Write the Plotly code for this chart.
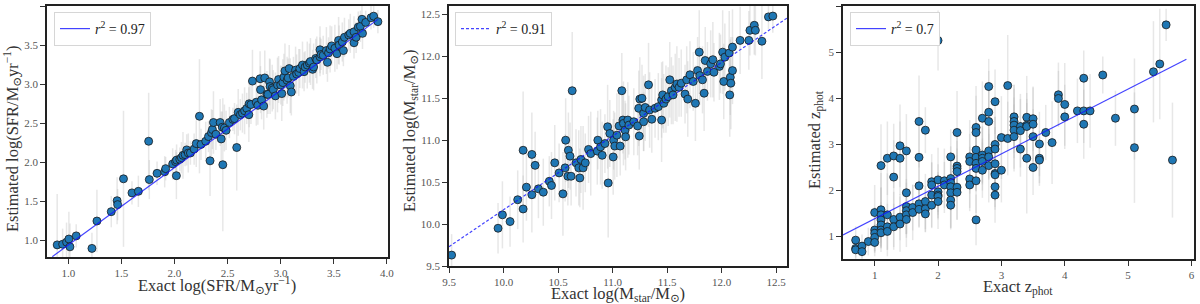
import plotly.graph_objects as go

# ---------------- Panel 1: SFR ----------------
sfr_exact = [0.896, 0.947, 0.984, 1.006, 1.016, 1.075, 1.223, 1.27, 1.405, 1.46,
             1.465, 1.52, 1.60, 1.66, 1.757, 1.763, 1.836, 1.908, 1.917, 1.983,
             2.01, 2.018, 2.02, 2.05, 2.065, 2.08, 2.10, 2.115, 2.13, 2.15,
             2.185, 2.205, 2.235, 2.25, 2.294, 2.32, 2.335, 2.348, 2.357, 2.367,
             2.39, 2.43, 2.44, 2.455, 2.45, 2.47, 2.486, 2.517, 2.55, 2.565,
             2.586, 2.60, 2.62, 2.64, 2.66, 2.68, 2.70, 2.703, 2.72, 2.734,
             2.77, 2.785, 2.806, 2.81, 2.82, 2.84, 2.85, 2.87, 2.88, 2.895,
             2.90, 2.92, 2.93, 2.95, 2.97, 2.98, 3.00, 3.01, 3.02, 3.03,
             3.04, 3.06, 3.07, 3.08, 3.09, 3.10, 3.12, 3.14, 3.15, 3.17,
             3.18, 3.205, 3.22, 3.23, 3.25, 3.27, 3.28, 3.30, 3.31, 3.33,
             3.34, 3.37, 3.37, 3.38, 3.40, 3.43, 3.44, 3.45, 3.465, 3.48,
             3.51, 3.53, 3.545, 3.55, 3.58, 3.59, 3.60, 3.64, 3.655, 3.69,
             3.69, 3.71, 3.73, 3.75, 3.765, 3.77, 3.80, 3.85, 3.875, 3.915]
sfr_est = [0.945, 0.953, 0.98, 1.02, 0.92, 1.06, 0.90, 1.25, 1.37, 1.51,
           1.46, 1.79, 1.61, 1.63, 2.27, 1.78, 1.86, 1.88, 1.92, 1.98,
           2.01, 1.83, 2.03, 2.04, 2.06, 2.09, 2.10, 2.16, 2.12, 2.12,
           2.17, 2.24, 2.59, 2.23, 2.27, 2.33, 2.02, 2.38, 2.42, 2.51,
           2.36, 2.51, 2.30, 1.97, 2.45, 2.44, 2.41, 2.51, 2.55, 2.56,
           2.19, 2.64, 2.61, 2.63, 2.66, 2.69, 2.61, 2.75, 2.74, 3.04,
           2.77, 2.73, 3.07, 2.93, 2.80, 2.72, 3.08, 2.87, 2.87, 3.03,
           2.97, 2.95, 2.93, 2.85, 2.99, 3.06, 2.99, 2.88, 3.02, 3.09,
           3.17, 3.05, 3.08, 3.20, 2.98, 2.90, 3.10, 3.18, 3.13, 3.15,
           3.20, 3.245, 3.16, 3.22, 3.245, 3.27, 3.29, 3.19, 3.22, 3.33,
           3.31, 3.35, 3.44, 3.38, 3.37, 3.43, 3.28, 3.40, 3.45, 3.49,
           3.46, 3.39, 3.56, 3.50, 3.54, 3.43, 3.60, 3.63, 3.65, 3.53,
           3.67, 3.60, 3.73, 3.74, 3.83, 3.65, 3.79, 3.85, 3.87, 3.80]
sfr_err = [0.65, 0.2, 0.25, 0.35, 0.3, 0.15, 0.2, 0.4, 0.2, 0.3,
           0.2, 0.87, 0.15, 0.2, 0.62, 0.25, 0.15, 0.2, 0.15, 0.2,
           0.15, 0.3, 0.2, 0.15, 0.2, 0.3, 0.15, 0.2, 0.25, 0.15,
           0.2, 0.3, 0.73, 0.2, 0.25, 0.2, 0.45, 0.3, 0.25, 0.4,
           0.2, 0.3, 0.35, 0.85, 0.2, 0.3, 0.25, 0.2, 0.15, 0.2,
           0.55, 0.3, 0.2, 0.25, 0.3, 0.2, 0.35, 0.3, 0.25, 0.4,
           0.3, 0.25, 0.35, 0.3, 0.25, 0.3, 0.35, 0.3, 0.25, 0.3,
           0.35, 0.3, 0.25, 0.3, 0.35, 0.3, 0.25, 0.35, 0.3, 0.3,
           0.35, 0.3, 0.25, 0.3, 0.35, 0.3, 0.25, 0.3, 0.25, 0.3,
           0.25, 0.3, 0.25, 0.2, 0.3, 0.25, 0.3, 0.25, 0.3, 0.25,
           0.3, 0.25, 0.3, 0.2, 0.25, 0.3, 0.25, 0.2, 0.3, 0.25,
           0.3, 0.2, 0.3, 0.25, 0.25, 0.2, 0.25, 0.2, 0.25, 0.2,
           0.2, 0.2, 0.2, 0.2, 0.2, 0.2, 0.15, 0.15, 0.15, 0.15]
sfr_fit = [0.99, -0.047]          # slope, intercept
sfr_fit_x = [0.85, 3.915]
sfr_r2 = "0.97"

# ---------------- Panel 2: Mstar ----------------
mstar_exact = [9.524, 9.95, 9.99, 10.06, 10.13, 10.18, 10.18, 10.21, 10.26, 10.26,
               10.29, 10.32, 10.365, 10.42, 10.44, 10.47, 10.51, 10.545, 10.565, 10.57,
               10.59, 10.595, 10.61, 10.62, 10.63, 10.665, 10.69, 10.70, 10.71, 10.73,
               10.75, 10.78, 10.80, 10.86, 10.865, 10.89, 10.905, 10.93, 10.955, 10.96,
               10.975, 11.006, 11.01, 11.02, 11.04, 11.06, 11.07, 11.085, 11.095, 11.10,
               11.115, 11.12, 11.14, 11.15, 11.195, 11.23, 11.24, 11.245, 11.25, 11.27,
               11.285, 11.285, 11.30, 11.33, 11.34, 11.36, 11.39, 11.42, 11.45, 11.45,
               11.46, 11.47, 11.49, 11.51, 11.525, 11.54, 11.555, 11.575, 11.59, 11.61,
               11.63, 11.665, 11.68, 11.69, 11.71, 11.74, 11.76, 11.78, 11.795, 11.80,
               11.825, 11.84, 11.85, 11.87, 11.90, 11.92, 11.93, 11.98, 11.99, 12.01,
               12.02, 12.03, 12.07, 12.075, 12.08, 12.085, 12.10, 12.10, 12.17, 12.25,
               12.26, 12.30, 12.31, 12.37, 12.43, 12.47]
mstar_est = [9.63, 9.95, 10.11, 10.03, 10.29, 10.18, 10.88, 10.44, 10.35, 10.83,
             10.70, 10.42, 10.38, 10.51, 10.46, 10.73, 10.61, 10.36, 10.67, 11.0,
             10.57, 10.88, 10.81, 10.57, 11.59, 10.73, 10.67, 10.55, 10.77, 10.67,
             10.73, 10.89, 10.84, 10.87, 11.0, 10.92, 10.82, 10.96, 11.16, 10.49,
             11.08, 10.80, 11.0, 10.93, 11.06, 11.17, 10.93, 11.59, 11.24, 11.20,
             11.12, 11.04, 11.24, 11.18, 11.22, 11.17, 11.38, 11.05, 11.49, 11.50,
             11.32, 11.22, 11.39, 11.66, 11.36, 11.25, 11.38, 11.40, 11.48, 11.24,
             11.54, 11.44, 11.49, 11.52, 11.72, 11.59, 11.54, 11.63, 11.67, 11.63,
             11.68, 11.55, 11.72, 11.49, 11.78, 11.70, 11.44, 11.83, 12.05, 11.77,
             11.72, 11.56, 11.95, 11.82, 11.91, 11.96, 11.81, 11.88, 11.91, 12.05,
             11.70, 11.99, 12.04, 11.54, 11.75, 11.68, 11.83, 12.11, 12.19, 12.19,
             12.31, 12.37, 12.31, 12.18, 12.47, 12.48]
mstar_err = [0.25, 0.3, 0.4, 0.3, 0.35, 0.4, 0.7, 0.4, 0.45, 0.5,
             0.4, 0.35, 0.4, 0.3, 0.4, 0.45, 0.35, 0.5, 0.4, 0.5,
             0.35, 0.45, 0.4, 0.35, 0.7, 0.4, 0.45, 0.35, 0.4, 0.5,
             0.35, 0.4, 0.5, 0.4, 0.35, 0.45, 0.4, 0.35, 0.5, 0.65,
             0.4, 0.45, 0.35, 0.4, 0.5, 0.4, 0.35, 0.45, 0.4, 0.5,
             0.35, 0.4, 0.45, 0.35, 0.4, 0.35, 0.45, 0.4, 0.5, 0.4,
             0.45, 0.35, 0.4, 0.5, 0.45, 0.4, 0.35, 0.4, 0.45, 0.5,
             0.4, 0.35, 0.4, 0.35, 0.45, 0.4, 0.35, 0.4, 0.45, 0.35,
             0.4, 0.35, 0.4, 0.45, 0.4, 0.35, 0.45, 0.4, 0.5, 0.35,
             0.4, 0.45, 0.4, 0.35, 0.4, 0.45, 0.35, 0.4, 0.35, 0.5,
             0.45, 0.4, 0.5, 0.5, 0.45, 0.55, 0.4, 0.45, 0.4, 0.35,
             0.3, 0.35, 0.3, 0.45, 0.15, 0.2]
mstar_fit = [0.879, 1.38]
mstar_fit_x = [9.5, 12.6]
mstar_r2 = "0.91"

# ---------------- Panel 3: z_phot ----------------
z_exact = [0.7, 0.7, 0.7, 0.8, 0.8, 0.9, 1.0, 1.0, 1.0, 1.0,
           1.0, 1.1, 1.1, 1.1, 1.1, 1.1, 1.1, 1.1, 1.2, 1.2,
           1.2, 1.2, 1.3, 1.3, 1.3, 1.3, 1.4, 1.4, 1.4, 1.4,
           1.5, 1.5, 1.5, 1.5, 1.5, 1.5, 1.6, 1.6, 1.7, 1.7,
           1.7, 1.7, 1.7, 1.8, 1.8, 1.8, 1.8, 1.9, 1.9, 1.9,
           1.9, 2.0, 2.0, 2.0, 2.0, 2.0, 2.0, 2.1, 2.1, 2.2,
           2.2, 2.2, 2.2, 2.2, 2.2, 2.2, 2.3, 2.3, 2.3, 2.3,
           2.3, 2.3, 2.5, 2.5, 2.5, 2.5, 2.6, 2.6, 2.6, 2.6,
           2.6, 2.6, 2.6, 2.6, 2.7, 2.7, 2.7, 2.7, 2.7, 2.8,
           2.8, 2.8, 2.8, 2.8, 2.8, 2.9, 2.9, 2.9, 2.9, 2.9,
           2.9, 2.9, 2.9, 3.0, 3.0, 3.1, 3.1, 3.2, 3.2, 3.2,
           3.2, 3.2, 3.3, 3.3, 3.3, 3.4, 3.4, 3.4, 3.4, 3.5,
           3.5, 3.5, 3.5, 3.6, 3.6, 3.6, 3.7, 3.8, 3.9, 3.9,
           4.0, 4.0, 4.2, 4.3, 4.3, 4.3, 4.4, 4.6, 4.8, 5.1,
           5.1, 5.4, 5.5, 5.6, 5.7]
z_est = [0.91, 0.73, 0.70, 0.78, 0.66, 0.88, 1.51, 1.13, 1.06, 0.97,
         0.86, 2.53, 1.57, 1.46, 1.35, 1.24, 1.13, 1.07, 2.69, 1.46,
         1.20, 1.10, 2.28, 2.74, 1.36, 1.20, 2.96, 2.69, 1.41, 1.26,
         2.85, 1.94, 1.64, 1.55, 1.46, 1.36, 1.62, 1.51, 3.49, 2.71,
         2.09, 1.70, 1.58, 3.30, 1.75, 1.59, 1.48, 2.18, 2.11, 1.89,
         1.67, 5.25, 2.22, 1.96, 1.89, 1.86, 1.75, 2.20, 2.11, 2.72,
         2.25, 2.16, 2.07, 1.94, 1.78, 1.67, 3.25, 2.52, 2.47, 2.40,
         2.06, 1.95, 2.72, 2.62, 2.24, 2.11, 3.36, 3.25, 2.87, 2.71,
         2.58, 2.47, 2.20, 1.35, 3.56, 2.76, 2.69, 2.62, 2.43, 4.25,
         3.69, 3.49, 2.85, 2.72, 2.53, 3.92, 2.99, 2.89, 2.57, 2.36,
         2.33, 2.07, 1.89, 3.14, 2.43, 4.27, 3.12, 3.59, 3.49, 3.41,
         3.30, 3.16, 3.38, 3.29, 2.89, 3.58, 3.41, 3.38, 2.69, 3.55,
         3.43, 3.16, 2.49, 3.0, 2.69, 2.65, 3.25, 3.03, 4.07, 3.99,
         3.86, 3.59, 3.72, 4.43, 3.72, 3.43, 3.72, 4.50, 3.56, 3.76,
         2.92, 4.57, 4.74, 5.59, 2.65]
z_err = [0.3, 0.2, 0.2, 0.25, 0.2, 0.3, 0.6, 0.5, 0.4, 0.3,
         0.3, 0.9, 0.8, 0.6, 0.7, 0.5, 0.4, 0.3, 0.8, 0.9,
         0.5, 0.4, 0.8, 0.7, 0.6, 0.5, 0.9, 0.8, 0.5, 0.6,
         0.8, 0.9, 0.6, 0.5, 0.7, 0.4, 0.5, 0.6, 1.0, 0.8,
         0.6, 0.5, 0.4, 0.5, 0.6, 0.5, 0.4, 0.6, 0.5, 0.7,
         0.5, 0.65, 0.7, 0.6, 0.5, 0.4, 0.6, 0.7, 0.5, 0.6,
         0.7, 0.6, 0.5, 0.8, 0.6, 0.5, 0.9, 0.7, 0.6, 0.5,
         0.7, 0.6, 0.8, 0.6, 0.7, 0.5, 0.9, 0.8, 0.6, 0.7,
         0.6, 0.5, 0.7, 0.55, 0.8, 0.6, 0.7, 0.5, 0.6, 0.6,
         0.9, 0.7, 0.6, 0.5, 0.8, 0.7, 0.6, 0.7, 0.8, 0.6,
         0.7, 0.5, 0.6, 0.9, 0.7, 1.1, 0.8, 0.7, 0.8, 0.6,
         0.9, 0.7, 0.6, 0.8, 0.6, 0.9, 0.7, 0.6, 1.2, 0.7,
         0.8, 0.6, 0.6, 0.7, 0.6, 0.5, 0.6, 0.9, 0.7, 0.6,
         0.9, 0.7, 0.7, 0.6, 0.7, 0.75, 0.8, 0.4, 0.6, 1.1,
         1.2, 1.1, 1.2, 0.35, 1.25]
z_fit = [0.705, 0.67]
z_fit_x = [0.5, 5.92]
z_r2 = "0.7"

# ---------------- Figure ----------------
FONT = "Liberation Serif, DejaVu Serif, serif"
W, H = 1200, 304

panels = [
    dict(x=sfr_exact, y=sfr_est, e=sfr_err, fit=sfr_fit, fx=sfr_fit_x, r2=sfr_r2, dash="solid",
         xr=[0.8, 4.01], yr=[0.79, 4.0], xd=[47, 388], yd=[6, 257],
         xt=[1.0, 1.5, 2.0, 2.5, 3.0, 3.5, 4.0], yt=[1.0, 1.5, 2.0, 2.5, 3.0, 3.5, 4.0],
         xlab="Exact log(SFR/M<sub>⊙</sub>yr<sup>−1</sup>)",
         ylab="Estimated log(SFR/M<sub>⊙</sub>yr<sup>−1</sup>)",
         xlab_pos=(217, 285), ylab_pos=(12, 139), leg=(54, 12)),
    dict(x=mstar_exact, y=mstar_est, e=mstar_err, fit=mstar_fit, fx=mstar_fit_x, r2=mstar_r2, dash="3px,2px",
         xr=[9.5, 12.6], yr=[9.5, 12.6], xd=[449, 787], yd=[6, 266],
         xt=[9.5, 10.0, 10.5, 11.0, 11.5, 12.0, 12.5], yt=[9.5, 10.0, 10.5, 11.0, 11.5, 12.0, 12.5],
         xlab="Exact log(M<sub>star</sub>/M<sub>⊙</sub>)",
         ylab="Estimated log(M<sub>star</sub>/M<sub>⊙</sub>)",
         xlab_pos=(618, 294), ylab_pos=(410, 131), leg=(455, 12)),
    dict(x=z_exact, y=z_est, e=z_err, fit=z_fit, fx=z_fit_x, r2=z_r2, dash="solid",
         xr=[0.5, 6.04], yr=[0.5, 6.0], xd=[843, 1194], yd=[6, 259],
         xt=[1, 2, 3, 4, 5, 6], yt=[1, 2, 3, 4, 5, 6],
         xlab="Exact z<sub>phot</sub>",
         ylab="Estimated z<sub>phot</sub>",
         xlab_pos=(1018, 287), ylab_pos=(815, 140), leg=(850, 12)),
]

fig = go.Figure()
annotations = []
for i, p in enumerate(panels, start=1):
    sfx = "" if i == 1 else str(i)
    xa, ya = "x" + sfx, "y" + sfx
    lg = "legend" + sfx
    fig.add_trace(go.Scatter(
        x=p["x"], y=p["y"], mode="markers", xaxis=xa, yaxis=ya, showlegend=False,
        error_y=dict(type="data", array=p["e"], visible=True, color="rgba(185,185,185,0.35)",
                     thickness=1.5, width=0),
        marker=dict(size=8, color="#1f77b4", line=dict(color="#1a1a1a", width=0.8)),
        hoverinfo="skip"))
    slope, inter = p["fit"]
    fy = [slope * v + inter for v in p["fx"]]
    fig.add_trace(go.Scatter(
        x=p["fx"], y=fy, mode="lines", xaxis=xa, yaxis=ya, legend=lg,
        name="<i>r</i><sup>2</sup> = " + p["r2"],
        line=dict(color="rgba(20,20,255,0.8)", width=1.2, dash=p["dash"])))
    axis_common = dict(showline=True, linecolor="#222", linewidth=1.5, mirror=True,
                       ticks="outside", ticklen=5, tickwidth=1, tickcolor="#333",
                       showgrid=False, zeroline=False, automargin=False,
                       tickfont=dict(family=FONT, size=11, color="#555"))
    fig.update_layout({
        "xaxis" + sfx: dict(domain=[p["xd"][0] / W, p["xd"][1] / W], range=p["xr"], anchor=ya,
                            tickvals=p["xt"], ticktext=[f"{v:.1f}" if i < 3 else f"{v}" for v in p["xt"]],
                            **axis_common),
        "yaxis" + sfx: dict(domain=[1 - p["yd"][1] / H, 1 - p["yd"][0] / H], range=p["yr"], anchor=xa,
                            tickvals=p["yt"], ticktext=[f"{v:.1f}" if i < 3 else f"{v}" for v in p["yt"]],
                            **axis_common),
        lg: dict(x=p["leg"][0] / W, y=1 - p["leg"][1] / H, xanchor="left", yanchor="top",
                 bgcolor="white", bordercolor="#d6d6d6", borderwidth=1,
                 font=dict(family=FONT, size=14, color="#222")),
    })
    annotations.append(dict(text=p["xlab"], x=p["xlab_pos"][0] / W, y=1 - p["xlab_pos"][1] / H,
                            xref="paper", yref="paper", showarrow=False, xanchor="center", yanchor="middle",
                            font=dict(family=FONT, size=16.5, color="#333")))
    annotations.append(dict(text=p["ylab"], x=p["ylab_pos"][0] / W, y=1 - p["ylab_pos"][1] / H,
                            xref="paper", yref="paper", showarrow=False, xanchor="center", yanchor="middle",
                            textangle=-90, font=dict(family=FONT, size=16.5, color="#333")))

fig.update_layout(width=W, height=H, margin=dict(l=0, r=0, t=0, b=0),
                  paper_bgcolor="white", plot_bgcolor="white",
                  annotations=annotations, font=dict(family=FONT))
fig.write_html("out.html", config={"displayModeBar": False},
               post_script="document.body.style.margin='0px';document.body.style.padding='0px';")
